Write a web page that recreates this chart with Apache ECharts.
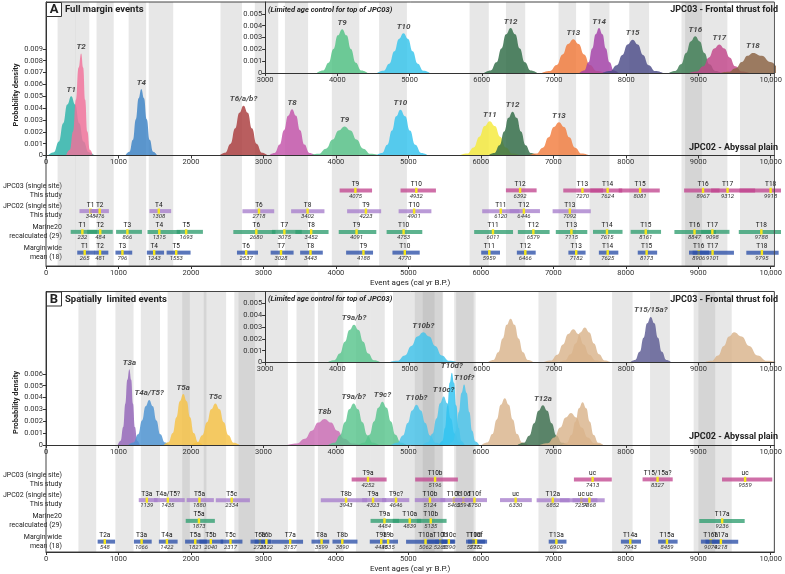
<!DOCTYPE html>
<html>
<head>
<meta charset="utf-8">
<script src="https://cdn.jsdelivr.net/npm/echarts@6/dist/echarts.min.js"></script>
<style>
  html, body { margin: 0; padding: 0; background: #fff; }
  #chart { width: 785px; height: 574px; }
</style>
</head>
<body>
<div id="chart"></div>
<script>
// ---- data (ages in cal yr B.P., density in units of 0.001) ----
const X_MAX = 10050
const AGE_TICKS = [0, 1000, 2000, 3000, 4000, 5000, 6000, 7000, 8000, 9000, 10000]
const INSET_TICKS = [3000, 4000, 5000, 6000, 7000, 8000, 9000, 10000]
const DENS_TICKS_A = [0, 1, 2, 3, 4, 5, 6, 7, 8, 9]
const DENS_TICKS_B = [0, 1, 2, 3, 4, 5, 6]
const DENS_TICKS_INSET = [0, 1, 2, 3, 4, 5]
const ROW_NAMES = ['JPC03 (single site)\nThis study', 'JPC02 (single site)\nThis study', 'Marine20\nrecalculated (29)', 'Margin wide\nmean (18)']

// panel A, JPC02 (main) densities
const A_MAIN_NAMES = ['T1', 'T2', 'T4', 'T6/a/b?', 'T8', 'T9', 'T10', 'T11', 'T12', 'T13']
const A_MAIN_PTS = [
  [[28, 0], [108, .28], [178, 1.18], [238, 2.73], [293, 4.3], [348, 5.0], [403, 4.3], [458, 2.73], [518, 1.18], [588, .28], [668, 0]],
  [[277, 0], [329, .48], [374, 2.03], [413, 4.7], [449, 7.4], [485, 8.6], [513, 7.4], [540, 4.7], [570, 2.03], [605, .48], [645, 0]],
  [[1097, 0], [1152, .31], [1199, 1.32], [1240, 3.06], [1278, 4.82], [1315, 5.6], [1352, 4.82], [1390, 3.06], [1431, 1.32], [1478, .31], [1533, 0]],
  [[2390, 0], [2474, .24], [2547, .99], [2610, 2.29], [2668, 3.61], [2726, 4.2], [2784, 3.61], [2842, 2.29], [2905, .99], [2978, .24], [3062, 0]],
  [[3075, 0], [3155, .22], [3225, .92], [3285, 2.13], [3340, 3.35], [3395, 3.9], [3450, 3.35], [3505, 2.13], [3565, .92], [3635, .22], [3715, 0]],
  [[3640, 0], [3760, .14], [3865, .58], [3955, 1.34], [4037, 2.11], [4120, 2.45], [4203, 2.11], [4285, 1.34], [4375, .58], [4480, .14], [4600, 0]],
  [[4554, 0], [4638, .22], [4711, .91], [4774, 2.1], [4832, 3.31], [4890, 3.85], [4956, 3.31], [5022, 2.1], [5094, .91], [5178, .22], [5274, 0]],
  [[5707, 0], [5811, .16], [5902, .68], [5980, 1.58], [6051, 2.49], [6123, 2.9], [6195, 2.49], [6266, 1.58], [6344, .68], [6435, .16], [6539, 0]],
  [[6102, 0], [6186, .21], [6259, .87], [6322, 2.02], [6380, 3.18], [6438, 3.7], [6496, 3.18], [6554, 2.02], [6617, .87], [6690, .21], [6774, 0]],
  [[6662, 0], [6766, .16], [6857, .66], [6935, 1.53], [7006, 2.41], [7078, 2.8], [7150, 2.41], [7221, 1.53], [7299, .66], [7390, .16], [7494, 0]]
]
const A_MAIN_COLORS = ['#2bb3a9', '#f2709a', '#3b82c6', '#a93a3c', '#c352aa', '#55c287', '#35c3ee', '#f5ea3a', '#2f6b46', '#f27c3e']

// panel A, JPC03 (inset) densities
const A_INSET_NAMES = ['T9', 'T10', 'T12', 'T13', 'T14', 'T15', 'T16', 'T17', 'T18']
const A_INSET_PTS = [
  [[3715, 0], [3803, .21], [3880, .87], [3946, 2.02], [4006, 3.18], [4067, 3.7], [4128, 3.18], [4188, 2.02], [4254, .87], [4331, .21], [4419, 0]],
  [[4548, 0], [4640, .19], [4720, .79], [4789, 1.83], [4853, 2.88], [4916, 3.35], [4979, 2.88], [5043, 1.83], [5112, .79], [5192, .19], [5284, 0]],
  [[6031, 0], [6123, .21], [6203, .9], [6272, 2.07], [6336, 3.27], [6399, 3.8], [6462, 3.27], [6526, 2.07], [6595, .9], [6675, .21], [6767, 0]],
  [[6835, 0], [6943, .16], [7037, .67], [7118, 1.56], [7193, 2.45], [7267, 2.85], [7341, 2.45], [7416, 1.56], [7497, .67], [7591, .16], [7699, 0]],
  [[7351, 0], [7419, .21], [7478, .9], [7529, 2.07], [7576, 3.27], [7623, 3.8], [7670, 3.27], [7717, 2.07], [7768, .9], [7827, .21], [7895, 0]],
  [[7673, 0], [7777, .16], [7868, .66], [7946, 1.53], [8017, 2.41], [8089, 2.8], [8161, 2.41], [8232, 1.53], [8310, .66], [8401, .16], [8505, 0]],
  [[8587, 0], [8679, .17], [8759, .73], [8828, 1.69], [8892, 2.67], [8955, 3.1], [9018, 2.67], [9082, 1.69], [9151, .73], [9231, .17], [9323, 0]],
  [[8872, 0], [8976, .13], [9067, .57], [9145, 1.31], [9216, 2.06], [9288, 2.4], [9360, 2.06], [9431, 1.31], [9509, .57], [9600, .13], [9704, 0]],
  [[9306, 0], [9418, .1], [9516, .4], [9600, .93], [9677, 1.46], [9754, 1.7], [9875, 1.46], [9996, .93], [10128, .4], [10282, .1], [10458, 0]]
]
const A_INSET_COLORS = ['#50c284', '#35c4ec', '#2e6b45', '#f27a3a', '#a33fa8', '#4b4a88', '#3a7a50', '#c2458a', '#8a6242']

// panel B, JPC02 (main) densities ('' = unlabelled peak)
const B_MAIN_NAMES = ['T3a', 'T4a/T5?', 'T5a', 'T5c', 'T8b', 'T9a/b?', 'T9c?', 'T10b?', 'T10c?', 'T10d?', 'T10f?', '', 'T12a', '', '']
const B_MAIN_PTS = [
  [[990, 0], [1030, .36], [1065, 1.51], [1095, 3.49], [1122, 5.5], [1150, 6.4], [1175, 5.5], [1200, 3.49], [1227, 1.51], [1258, .36], [1294, 0]],
  [[1136, 0], [1208, .21], [1271, .9], [1325, 2.07], [1374, 3.27], [1424, 3.8], [1474, 3.27], [1523, 2.07], [1577, .9], [1640, .21], [1712, 0]],
  [[1622, 0], [1690, .24], [1749, 1.01], [1800, 2.35], [1847, 3.7], [1894, 4.3], [1941, 3.7], [1988, 2.35], [2039, 1.01], [2098, .24], [2166, 0]],
  [[2001, 0], [2085, .2], [2158, .83], [2221, 1.91], [2279, 3.01], [2337, 3.5], [2395, 3.01], [2453, 1.91], [2516, .83], [2589, .2], [2673, 0]],
  [[3332, 0], [3460, .12], [3572, .52], [3668, 1.2], [3756, 1.89], [3844, 2.2], [3932, 1.89], [4020, 1.2], [4116, .52], [4228, .12], [4356, 0]],
  [[3893, 0], [3981, .2], [4058, .83], [4124, 1.91], [4184, 3.01], [4245, 3.5], [4306, 3.01], [4366, 1.91], [4432, .83], [4509, .2], [4597, 0]],
  [[4306, 0], [4390, .2], [4463, .86], [4526, 1.99], [4584, 3.14], [4642, 3.65], [4700, 3.14], [4758, 1.99], [4821, .86], [4894, .2], [4978, 0]],
  [[4760, 0], [4848, .19], [4925, .8], [4991, 1.86], [5051, 2.92], [5112, 3.4], [5173, 2.92], [5233, 1.86], [5299, .8], [5376, .19], [5464, 0]],
  [[5199, 0], [5271, .23], [5334, .97], [5388, 2.24], [5437, 3.53], [5487, 4.1], [5537, 3.53], [5586, 2.24], [5640, .97], [5703, .23], [5775, 0]],
  [[5424, 0], [5468, .34], [5506, 1.44], [5539, 3.33], [5570, 5.25], [5600, 6.1], [5630, 5.25], [5661, 3.33], [5694, 1.44], [5732, .34], [5776, 0]],
  [[5561, 0], [5613, .29], [5658, 1.2], [5697, 2.78], [5733, 4.39], [5769, 5.1], [5805, 4.39], [5841, 2.78], [5880, 1.2], [5925, .29], [5977, 0]],
  [[6010, 0], [6090, .22], [6160, .93], [6220, 2.16], [6275, 3.4], [6330, 3.95], [6385, 3.4], [6440, 2.16], [6500, .93], [6570, .22], [6650, 0]],
  [[6504, 0], [6592, .19], [6669, .79], [6735, 1.83], [6795, 2.88], [6856, 3.35], [6917, 2.88], [6977, 1.83], [7043, .79], [7120, .19], [7208, 0]],
  [[6812, 0], [6920, .15], [7014, .64], [7095, 1.47], [7170, 2.32], [7244, 2.7], [7318, 2.32], [7393, 1.47], [7474, .64], [7568, .15], [7676, 0]],
  [[7116, 0], [7188, .2], [7251, .85], [7305, 1.97], [7354, 3.1], [7404, 3.6], [7454, 3.1], [7503, 1.97], [7557, .85], [7620, .2], [7692, 0]]
]
const B_MAIN_COLORS = ['#9264b8', '#4b92d2', '#f7c244', '#f7c244', '#cb6bb4', '#58c58c', '#58c58c', '#48c4ec', '#48c4ec', '#2ec2f0', '#48c4ec', '#d9b38b', '#3b6e4d', '#d9b38b', '#d9b38b']

// panel B, JPC03 (inset) densities
const B_INSET_NAMES = ['T9a/b?', 'T10b?', '', '', '', 'T15/15a?', '']
const B_INSET_PTS = [
  [[3863, 0], [3955, .18], [4035, .76], [4104, 1.75], [4168, 2.75], [4231, 3.2], [4294, 2.75], [4358, 1.75], [4427, .76], [4507, .18], [4599, 0]],
  [[4710, 0], [4830, .14], [4935, .6], [5025, 1.39], [5107, 2.19], [5190, 2.55], [5273, 2.19], [5355, 1.39], [5445, .6], [5550, .14], [5670, 0]],
  [[6079, 0], [6159, .21], [6229, .87], [6289, 2.02], [6344, 3.18], [6399, 3.7], [6454, 3.18], [6509, 2.02], [6569, .87], [6639, .21], [6719, 0]],
  [[6851, 0], [6955, .16], [7046, .66], [7124, 1.53], [7195, 2.41], [7267, 2.8], [7339, 2.41], [7410, 1.53], [7488, .66], [7579, .16], [7683, 0]],
  [[7058, 0], [7150, .17], [7230, .7], [7299, 1.61], [7363, 2.54], [7426, 2.95], [7489, 2.54], [7553, 1.61], [7622, .7], [7702, .17], [7794, 0]],
  [[8051, 0], [8123, .22], [8186, .91], [8240, 2.1], [8289, 3.31], [8339, 3.85], [8389, 3.31], [8438, 2.1], [8492, .91], [8555, .22], [8627, 0]],
  [[9077, 0], [9181, .14], [9272, .6], [9350, 1.39], [9421, 2.19], [9493, 2.55], [9598, 2.19], [9702, 1.39], [9816, .6], [9949, .14], [10101, 0]]
]
const B_INSET_COLORS = ['#58c58c', '#3fc3ec', '#d9b38b', '#d9b38b', '#d9b38b', '#5b5a92', '#d9b38b']

// event age ranges: [start, end, mean, label]
const A_JPC03 = [[3853, 4309, 4075, 'T9'], [4710, 5208, 4932, 'T10'], [6193, 6625, 6392, 'T12'], [7000, 7560, 7270, 'T13'], [7380, 7830, 7624, 'T14'], [7780, 8358, 8081, 'T15'], [8700, 9200, 8967, 'T16'], [9080, 9700, 9312, 'T17'], [9480, 10100, 9918, 'T18']]
const A_JPC02 = [[192, 480, 348, 'T1'], [340, 606, 476, 'T2'], [1176, 1482, 1308, 'T4'], [2485, 2932, 2718, 'T6'], [3170, 3639, 3402, 'T8'], [3958, 4437, 4223, 'T9'], [4683, 5144, 4901, 'T10'], [5859, 6384, 6120, 'T11'], [6247, 6672, 6446, 'T12'], [6850, 7387, 7092, 'T13']]
const A_M20 = [[68, 440, 232, 'T1'], [300, 660, 484, 'T2'], [707, 1071, 866, 'T3'], [1149, 1610, 1315, 'T4'], [1560, 1929, 1693, 'T5'], [2357, 2950, 2680, 'T6'], [2900, 3320, 3075, 'T7'], [3230, 3697, 3452, 'T8'], [3840, 4369, 4091, 'T9'], [4514, 5016, 4753, 'T10'], [5746, 6293, 6011, 'T11'], [6361, 6808, 6579, 'T12'], [6895, 7338, 7115, 'T13'], [7418, 7834, 7615, 'T14'], [7948, 8376, 8161, 'T15'], [8564, 9150, 8847, 'T16'], [8940, 9339, 9098, 'T17'], [9470, 10100, 9788, 'T18']]
const A_MEAN = [[160, 410, 265, 'T1'], [405, 598, 481, 'T2'], [698, 934, 796, 'T3'], [1140, 1382, 1243, 'T4'], [1418, 1755, 1553, 'T5'], [2408, 2704, 2537, 'T6'], [2882, 3205, 3028, 'T7'], [3297, 3616, 3443, 'T8'], [3944, 4323, 4188, 'T9'], [4596, 4980, 4770, 'T10'], [5845, 6110, 5959, 'T11'], [6347, 6612, 6466, 'T12'], [7072, 7314, 7182, 'T13'], [7501, 7775, 7625, 'T14'], [8048, 8321, 8173, 'T15'], [8769, 9052, 8906, 'T16'], [8820, 9402, 9101, 'T17'], [9576, 10031, 9795, 'T18']]

const B_JPC03 = [[4022, 4514, 4252, 'T9a'], [4916, 5517, 5196, 'T10b'], [7150, 7683, 7413, 'uc'], [8116, 8540, 8327, 'T15/15a?'], [9234, 9941, 9559, 'uc']]
const B_JPC02 = [[1026, 1290, 1139, 'T3a'], [1240, 1673, 1435, 'T4a/T5?'], [1700, 2083, 1880, 'T5a'], [2110, 2590, 2334, 'T5c'], [3588, 4240, 3943, 'T8b'], [4170, 4510, 4323, 'T9a'], [4450, 4833, 4646, 'T9c?'], [4911, 5340, 5124, 'T10b'], [5270, 5600, 5462, 'T10c'], [5450, 5750, 5594, 'T10d'], [5560, 5927, 5750, 'T10f'], [6110, 6557, 6330, 'uc'], [6625, 7090, 6852, 'T12a'], [6954, 7480, 7254, 'uc'], [7130, 7583, 7368, 'uc']]
const B_M20 = [[1687, 2097, 1873, 'T5a'], [4288, 4690, 4484, 'T9a'], [4600, 5000, 4839, 'T10a'], [4940, 5358, 5135, 'T10b'], [8914, 9553, 9236, 'T17a']]
const B_MEAN = [[447, 693, 548, 'T2a'], [958, 1208, 1066, 'T3a'], [1309, 1573, 1422, 'T4a'], [1678, 1985, 1821, 'T5a'], [1880, 2214, 2040, 'T5b'], [2177, 2485, 2317, 'T5c'], [2599, 2885, 2731, 'T6a'], [2657, 2890, 2822, 'T6b'], [2890, 3338, 3157, 'T7a'], [3457, 3707, 3599, 'T8a'], [3752, 4104, 3890, 'T8b'], [4277, 4477, 4438, 'T9a'], [4477, 4674, 4535, 'T9b'], [4788, 5362, 5062, 'T10a'], [5089, 5470, 5268, 'T10b'], [5198, 5480, 5390, 'T10c'], [5632, 5900, 5735, 'T10d'], [5660, 5928, 5772, 'T10f'], [6795, 7045, 6903, 'T13a'], [7811, 8094, 7943, 'T14a'], [8335, 8609, 8459, 'T15a'], [8937, 9234, 9074, 'T16a'], [9002, 9462, 9218, 'T17a']]

// ---- styling ----
const FONT = 'Roboto, "Liberation Sans", sans-serif'
const ROW_COLORS = ['#c2478f', '#a77dcc', '#2f9e70', '#2b4fa8']
const AXIS_C = '#333'

const ageLabel = v => v === 10000 ? '10,000' : String(v)
const densLabel = v => v === 0 ? '0' : (v / 1000).toFixed(3)

function ageAxis(gi, min, ticks, extra) {
  return Object.assign({
    type: 'value', gridIndex: gi, min, max: X_MAX, z: 4,
    axisLine: { show: true, onZero: false, lineStyle: { color: AXIS_C, width: 1 } },
    axisTick: { show: true, length: 3, customValues: ticks, lineStyle: { color: AXIS_C } },
    axisLabel: { customValues: ticks, formatter: ageLabel, fontSize: 7.5, color: '#333', margin: 3, fontFamily: FONT },
    splitLine: { show: false }
  }, extra || {})
}
function densAxis(gi, max, ticks) {
  return {
    type: 'value', gridIndex: gi, min: 0, max, z: 4,
    axisLine: { show: true, lineStyle: { color: AXIS_C, width: 1 } },
    axisTick: { show: true, length: 3, customValues: ticks, lineStyle: { color: AXIS_C } },
    axisLabel: { customValues: ticks, formatter: densLabel, fontSize: 7.5, color: '#333', margin: 3, fontFamily: FONT },
    splitLine: { show: false }
  }
}
const hiddenX = gi => ({ type: 'value', gridIndex: gi, min: 0, max: X_MAX, show: false })
const hiddenY = gi => ({ type: 'value', gridIndex: gi, min: 0, max: 1, show: false })
const rowAxis = gi => ({
  type: 'category', gridIndex: gi, data: ROW_NAMES, inverse: true,
  axisLine: { show: false }, axisTick: { show: false },
  axisLabel: { fontSize: 7, lineHeight: 9, color: '#222', margin: 4, fontFamily: FONT }
})

function bandSeries(bars, xi, yi) {
  return {
    type: 'custom', xAxisIndex: xi, yAxisIndex: yi, data: bars.map(b => [b[0], b[1]]),
    encode: { x: [0, 1] }, silent: true, z: 1,
    renderItem: (params, api) => {
      const s = api.coord([api.value(0), 0])
      const e = api.coord([api.value(1), 0])
      const cs = params.coordSys
      return { type: 'rect', shape: { x: s[0], y: cs.y, width: e[0] - s[0], height: cs.height }, style: { fill: 'rgba(160,160,160,0.25)' } }
    }
  }
}

function curveSeries(names, pts, colors, xi, yi) {
  const out = pts.map((p, i) => ({
    type: 'line', xAxisIndex: xi, yAxisIndex: yi, data: p, smooth: 0.5, smoothMonotone: 'x',
    symbol: 'none', silent: true, z: 2, lineStyle: { width: 0, opacity: 0 },
    areaStyle: { color: colors[i], opacity: 0.82 }
  }))
  const peaks = []
  pts.forEach((p, i) => {
    if (!names[i]) return
    let best = p[0]
    p.forEach(q => { if (q[1] > best[1]) best = q })
    peaks.push([best[0], best[1], names[i]])
  })
  out.push({
    type: 'scatter', xAxisIndex: xi, yAxisIndex: yi, data: peaks, symbolSize: 1, silent: true, z: 3,
    itemStyle: { color: 'rgba(0,0,0,0)' },
    label: { show: true, position: 'top', distance: 2, formatter: p => p.value[2], fontSize: 8, fontStyle: 'italic', fontWeight: 'bold', color: '#222', fontFamily: FONT }
  })
  return out
}

function rowSeries(rows, xi, yi) {
  const data = []
  rows.forEach((r, ri) => r.forEach(b => data.push([ri, b[0], b[1], b[2], b[3]])))
  return {
    type: 'custom', xAxisIndex: xi, yAxisIndex: yi, data, clip: true, silent: true, z: 3,
    encode: { x: [1, 2], y: 0 },
    renderItem: (params, api) => {
      const d = data[params.dataIndex]
      const s = api.coord([d[1], d[0]])
      const e = api.coord([d[2], d[0]])
      const m = api.coord([d[3], d[0]])
      const yc = s[1]
      return {
        type: 'group', children: [
          { type: 'rect', shape: { x: s[0], y: yc - 2, width: e[0] - s[0], height: 4 }, style: { fill: ROW_COLORS[d[0]], opacity: 0.78 } },
          { type: 'rect', shape: { x: m[0] - 1.2, y: yc - 2.6, width: 2.4, height: 5.2 }, style: { fill: '#f5e61e' } },
          { type: 'text', x: m[0], y: yc - 2.6, style: { text: d[4], fill: '#111', font: '6.5px ' + FONT, textAlign: 'center', textVerticalAlign: 'bottom', align: 'center', verticalAlign: 'bottom' } },
          { type: 'text', x: m[0], y: yc + 2.8, style: { text: String(d[3]), fill: '#333', font: 'italic 6px ' + FONT, textAlign: 'center', textVerticalAlign: 'top', align: 'center', verticalAlign: 'top' } }
        ]
      }
    }
  }
}

function txt(x, y, text, font, align, extra) {
  return Object.assign({
    type: 'text', x, y, z: 10,
    style: { text, font, fill: '#222', textAlign: align || 'left', textVerticalAlign: 'middle', align: align || 'left', verticalAlign: 'middle' }
  }, extra || {})
}
function panelLabels(top, letter, title, jpc02y) {
  return [
    { type: 'rect', z: 10, shape: { x: 46.5, y: top + 0.5, width: 15, height: 14 }, style: { fill: '#fff', stroke: '#333', lineWidth: 1 } },
    txt(54, top + 8, letter, 'bold 13px ' + FONT, 'center'),
    txt(65, top + 8, title, 'bold 9.5px ' + FONT),
    txt(268, top + 8, '(Limited age control for top of JPC03)', 'italic bold 7.5px ' + FONT),
    txt(778, top + 8, 'JPC03 - Frontal thrust fold', 'bold 9px ' + FONT, 'right'),
    txt(778, jpc02y, 'JPC02 - Abyssal plain', 'bold 9px ' + FONT, 'right'),
    txt(16, top + (letter === 'A' ? 93 : 111), 'Probability density', 'bold 7.5px ' + FONT, 'center', { rotation: Math.PI / 2 })
  ]
}

// ---- layout ----
const L = 46, W = 734
const insetLeft = L + 3000 * W / X_MAX
const grids = [
  { left: L, top: 2, width: W, height: 264, show: true, borderColor: '#444', borderWidth: 1, z: 4 },   // 0 A frame
  { left: L, top: 2, width: W, height: 153.5 },                                                       // 1 A JPC02
  { left: insetLeft, top: 2, width: L + W - insetLeft, height: 71 },                                  // 2 A JPC03
  { left: L, top: 180, width: W, height: 83 },                                                        // 3 A rows
  { left: L, top: 291.5, width: W, height: 262.5, show: true, borderColor: '#444', borderWidth: 1, z: 4 }, // 4 B frame
  { left: L, top: 291.5, width: W, height: 153.5 },                                                   // 5 B JPC02
  { left: insetLeft, top: 291.5, width: L + W - insetLeft, height: 71 },                              // 6 B JPC03
  { left: L, top: 469, width: W, height: 83 }                                                         // 7 B rows
]
const nameOpts = { name: 'Event ages (cal yr B.P.)', nameLocation: 'middle', nameGap: 13, nameTextStyle: { fontSize: 8, color: '#222', fontFamily: FONT } }
const MAIN_MAX = 12.95

const chart = echarts.init(document.getElementById('chart'), null, { renderer: 'canvas' })
chart.setOption({
  animation: false,
  backgroundColor: '#fff',
  textStyle: { fontFamily: FONT },
  grid: grids,
  xAxis: [
    ageAxis(0, 0, AGE_TICKS, nameOpts), ageAxis(1, 0, AGE_TICKS), ageAxis(2, 3000, INSET_TICKS), hiddenX(3),
    ageAxis(4, 0, AGE_TICKS, nameOpts), ageAxis(5, 0, AGE_TICKS), ageAxis(6, 3000, INSET_TICKS), hiddenX(7)
  ],
  yAxis: [
    hiddenY(0), densAxis(1, MAIN_MAX, DENS_TICKS_A), densAxis(2, 6, DENS_TICKS_INSET), rowAxis(3),
    hiddenY(4), densAxis(5, MAIN_MAX, DENS_TICKS_B), densAxis(6, 6, DENS_TICKS_INSET), rowAxis(7)
  ],
  series: [
    bandSeries(A_MEAN, 0, 0),
    ...curveSeries(A_MAIN_NAMES, A_MAIN_PTS, A_MAIN_COLORS, 1, 1),
    ...curveSeries(A_INSET_NAMES, A_INSET_PTS, A_INSET_COLORS, 2, 2),
    rowSeries([A_JPC03, A_JPC02, A_M20, A_MEAN], 3, 3),
    bandSeries(B_MEAN, 4, 4),
    ...curveSeries(B_MAIN_NAMES, B_MAIN_PTS, B_MAIN_COLORS, 5, 5),
    ...curveSeries(B_INSET_NAMES, B_INSET_PTS, B_INSET_COLORS, 6, 6),
    rowSeries([B_JPC03, B_JPC02, B_M20, B_MEAN], 7, 7)
  ],
  graphic: [
    ...panelLabels(2, 'A', 'Full margin events', 148),
    ...panelLabels(291.5, 'B', 'Spatially  limited events', 437)
  ]
})
</script>
</body>
</html>
